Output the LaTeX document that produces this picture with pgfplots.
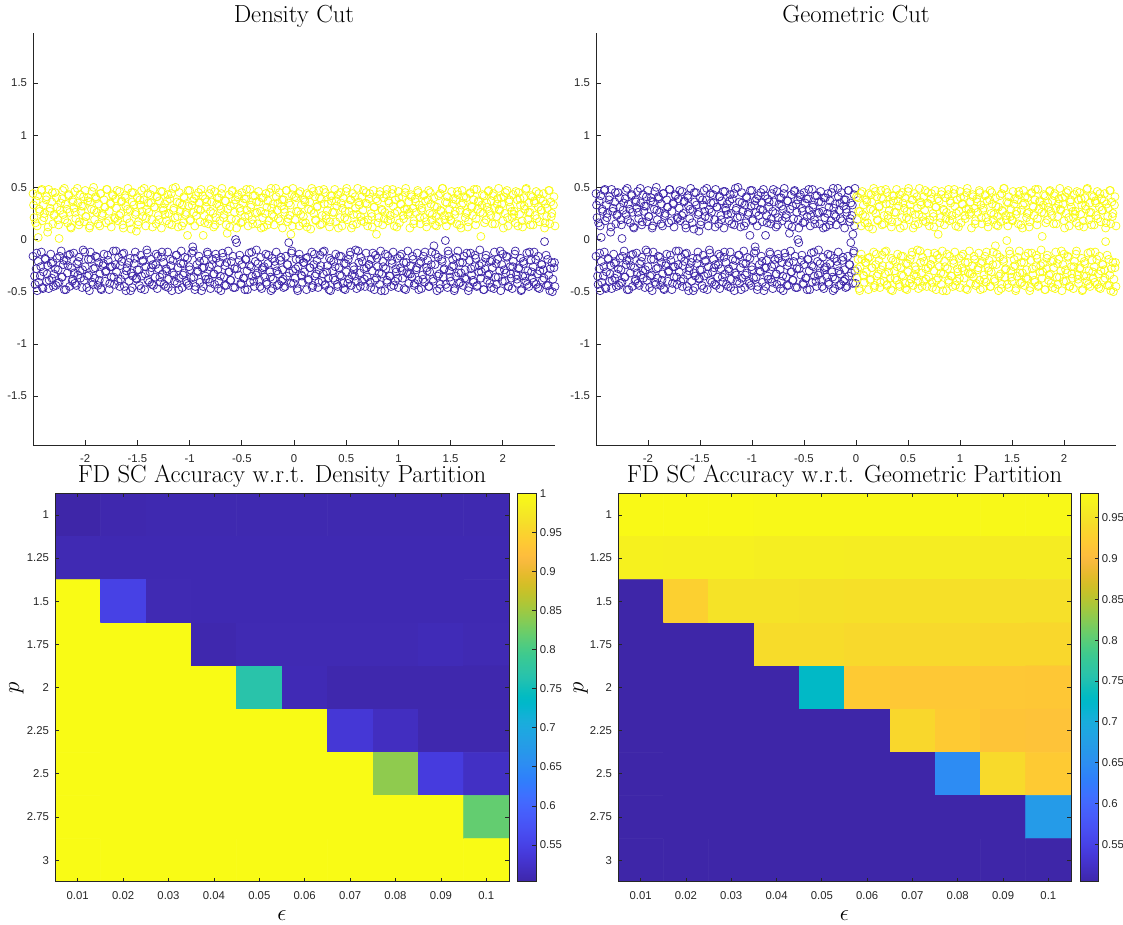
\documentclass[border=0pt]{standalone}
\usepackage{pgfplots}
\usepackage{pgfplotstable}
\pgfplotsset{compat=1.18}
\usepackage{fontspec}
\newfontfamily\arial{Liberation Sans}
\definecolor{pPurple}{rgb}{0.2422,0.1504,0.6603}
\definecolor{pYellow}{rgb}{0.9769,0.9839,0.0805}
\definecolor{axgray}{rgb}{0.15,0.15,0.15}
\pgfplotsset{colormap={parula}{
rgb=(0.2422,0.1504,0.6603) rgb=(0.2504,0.1650,0.7076) rgb=(0.2578,0.1818,0.7511) rgb=(0.2647,0.1978,0.7952)
rgb=(0.2706,0.2147,0.8364) rgb=(0.2751,0.2342,0.8710) rgb=(0.2783,0.2559,0.8991) rgb=(0.2803,0.2782,0.9221)
rgb=(0.2813,0.3006,0.9414) rgb=(0.2810,0.3228,0.9579) rgb=(0.2795,0.3447,0.9717) rgb=(0.2760,0.3667,0.9829)
rgb=(0.2699,0.3892,0.9906) rgb=(0.2602,0.4123,0.9952) rgb=(0.2440,0.4358,0.9988) rgb=(0.2206,0.4603,0.9973)
rgb=(0.1963,0.4847,0.9892) rgb=(0.1834,0.5074,0.9798) rgb=(0.1786,0.5289,0.9682) rgb=(0.1764,0.5499,0.9520)
rgb=(0.1687,0.5703,0.9359) rgb=(0.1540,0.5902,0.9218) rgb=(0.1460,0.6091,0.9079) rgb=(0.1380,0.6276,0.8973)
rgb=(0.1248,0.6459,0.8883) rgb=(0.1113,0.6635,0.8763) rgb=(0.0952,0.6798,0.8598) rgb=(0.0689,0.6948,0.8394)
rgb=(0.0297,0.7082,0.8163) rgb=(0.0036,0.7203,0.7917) rgb=(0.0067,0.7312,0.7660) rgb=(0.0433,0.7411,0.7394)
rgb=(0.0964,0.7500,0.7120) rgb=(0.1408,0.7584,0.6842) rgb=(0.1717,0.7670,0.6554) rgb=(0.1938,0.7758,0.6251)
rgb=(0.2161,0.7843,0.5923) rgb=(0.2470,0.7918,0.5567) rgb=(0.2906,0.7973,0.5188) rgb=(0.3406,0.8008,0.4789)
rgb=(0.3909,0.8029,0.4354) rgb=(0.4456,0.8024,0.3909) rgb=(0.5044,0.7993,0.3480) rgb=(0.5616,0.7942,0.3045)
rgb=(0.6174,0.7876,0.2612) rgb=(0.6720,0.7793,0.2227) rgb=(0.7242,0.7698,0.1910) rgb=(0.7738,0.7598,0.1646)
rgb=(0.8203,0.7498,0.1535) rgb=(0.8634,0.7406,0.1596) rgb=(0.9035,0.7330,0.1774) rgb=(0.9393,0.7288,0.2100)
rgb=(0.9728,0.7298,0.2394) rgb=(0.9956,0.7434,0.2371) rgb=(0.9970,0.7659,0.2199) rgb=(0.9952,0.7893,0.2028)
rgb=(0.9892,0.8136,0.1885) rgb=(0.9786,0.8386,0.1766) rgb=(0.9676,0.8639,0.1643) rgb=(0.9610,0.8890,0.1537)
rgb=(0.9597,0.9135,0.1423) rgb=(0.9628,0.9373,0.1265) rgb=(0.9691,0.9606,0.1064) rgb=(0.9769,0.9839,0.0805)}}

\pgfplotstableread[row sep=\\]{x y\\
-2.50 0.44\\ -2.49 0.21\\ -2.47 0.37\\ -2.46 0.13\\ -2.45 0.02\\ -2.44 0.29\\ -2.42 0.47\\ -2.41 0.18\\ -2.40 0.33\\ -2.39 0.25\\
-2.37 0.41\\ -2.36 0.07\\ -2.35 0.48\\ -2.34 0.27\\ -2.32 0.36\\ -2.31 0.15\\ -2.30 0.23\\ -2.29 0.45\\ -2.27 0.31\\ -2.26 0.19\\
-2.25 0.01\\ -2.24 0.28\\ -2.22 0.39\\ -2.21 0.24\\ -2.20 0.49\\ -2.19 0.34\\ -2.17 0.16\\ -2.16 0.42\\ -2.15 0.26\\ -2.14 0.12\\
-2.12 0.38\\ -2.11 0.30\\ -2.10 0.46\\ -2.09 0.20\\ -2.07 0.35\\ -2.06 0.14\\ -2.05 0.43\\ -2.04 0.27\\ -2.02 0.32\\ -2.01 0.17\\
-2.00 0.47\\ -1.99 0.22\\ -1.97 0.40\\ -1.96 0.11\\ -1.95 0.36\\ -1.94 0.29\\ -1.92 0.50\\ -1.91 0.19\\ -1.90 0.41\\ -1.89 0.26\\
-1.87 0.34\\ -1.86 0.13\\ -1.85 0.44\\ -1.84 0.23\\ -1.82 0.38\\ -1.81 0.31\\ -1.80 0.16\\ -1.79 0.48\\ -1.77 0.27\\ -1.76 0.35\\
-1.75 0.12\\ -1.74 0.43\\ -1.72 0.21\\ -1.71 0.39\\ -1.70 0.30\\ -1.69 0.18\\ -1.67 0.46\\ -1.66 0.25\\ -1.65 0.37\\ -1.64 0.14\\
-1.62 0.42\\ -1.61 0.32\\ -1.60 0.20\\ -1.59 0.49\\ -1.57 0.28\\ -1.56 0.10\\ -1.55 0.36\\ -1.54 0.45\\ -1.52 0.24\\ -1.51 0.08\\
-1.50 0.40\\ -1.49 0.17\\ -1.47 0.33\\ -1.46 0.47\\ -1.45 0.22\\ -1.44 0.38\\ -1.42 0.13\\ -1.41 0.29\\ -1.40 0.44\\ -1.39 0.26\\
-1.37 0.35\\ -1.36 0.19\\ -1.35 0.48\\ -1.34 0.31\\ -1.32 0.15\\ -1.31 0.41\\ -1.30 0.23\\ -1.29 0.37\\ -1.27 0.11\\ -1.26 0.46\\
-1.25 0.28\\ -1.24 0.34\\ -1.22 0.18\\ -1.21 0.43\\ -1.20 0.25\\ -1.19 0.39\\ -1.17 0.14\\ -1.16 0.49\\ -1.15 0.30\\ -1.14 0.21\\
-1.12 0.36\\ -1.11 0.12\\ -1.10 0.45\\ -1.09 0.27\\ -1.07 0.33\\ -1.06 0.16\\ -1.05 0.40\\ -1.04 0.24\\ -1.02 0.04\\ -1.01 0.32\\
-1.00 0.47\\ -0.99 0.19\\ -0.97 0.37\\ -0.96 0.26\\ -0.95 0.13\\ -0.94 0.42\\ -0.92 0.29\\ -0.91 0.35\\ -0.90 0.17\\ -0.89 0.48\\
-0.87 0.04\\ -0.86 0.23\\ -0.85 0.39\\ -0.84 0.31\\ -0.82 0.15\\ -0.81 0.44\\ -0.80 0.27\\ -0.79 0.36\\ -0.77 0.12\\ -0.76 0.46\\
-0.75 0.21\\ -0.74 0.34\\ -0.72 0.40\\ -0.71 0.18\\ -0.70 0.29\\ -0.69 0.49\\ -0.67 0.24\\ -0.66 0.37\\ -0.65 0.14\\ -0.64 0.06\\
-0.62 0.43\\ -0.61 0.32\\ -0.60 0.20\\ -0.59 0.47\\ -0.57 0.26\\ -0.56 0.38\\ -0.55 0.11\\ -0.54 0.41\\ -0.52 0.30\\ -0.51 0.16\\
-0.50 0.45\\ -0.49 0.35\\ -0.47 0.22\\ -0.46 0.39\\ -0.45 0.28\\ -0.44 0.13\\ -0.42 0.48\\ -0.41 0.33\\ -0.40 0.19\\ -0.39 0.42\\
-0.37 0.25\\ -0.36 0.36\\ -0.35 0.15\\ -0.34 0.46\\ -0.32 0.27\\ -0.31 0.40\\ -0.30 0.21\\ -0.29 0.12\\ -0.27 0.44\\ -0.26 0.31\\
-0.25 0.37\\ -0.24 0.18\\ -0.22 0.49\\ -0.21 0.24\\ -0.20 0.34\\ -0.19 0.14\\ -0.17 0.41\\ -0.16 0.28\\ -0.15 0.20\\ -0.14 0.45\\
-0.12 0.32\\ -0.11 0.11\\ -0.10 0.38\\ -0.09 0.26\\ -0.07 0.47\\ -0.06 0.17\\ -0.05 0.35\\ -0.04 0.23\\ -0.03 0.05\\ -0.02 0.43\\
-0.01 0.49\\ 0.01 0.19\\ 0.02 0.40\\ 0.04 0.27\\ 0.05 0.13\\ 0.06 0.46\\ 0.07 0.33\\ 0.09 0.22\\ 0.10 0.38\\ 0.11 0.16\\
0.12 0.44\\ 0.14 0.29\\ 0.15 0.36\\ 0.16 0.10\\ 0.17 0.49\\ 0.19 0.25\\ 0.20 0.41\\ 0.21 0.18\\ 0.22 0.31\\ 0.24 0.47\\
0.25 0.14\\ 0.26 0.39\\ 0.27 0.23\\ 0.29 0.34\\ 0.30 0.45\\ 0.31 0.20\\ 0.32 0.28\\ 0.34 0.12\\ 0.35 0.42\\ 0.36 0.37\\
0.37 0.26\\ 0.39 0.48\\ 0.40 0.17\\ 0.41 0.32\\ 0.42 0.43\\ 0.44 0.21\\ 0.45 0.35\\ 0.46 0.13\\ 0.47 0.40\\ 0.49 0.27\\
0.50 0.46\\ 0.51 0.19\\ 0.52 0.33\\ 0.54 0.38\\ 0.55 0.11\\ 0.56 0.44\\ 0.57 0.24\\ 0.59 0.30\\ 0.60 0.15\\ 0.61 0.49\\
0.62 0.36\\ 0.64 0.22\\ 0.65 0.41\\ 0.66 0.28\\ 0.67 0.17\\ 0.69 0.45\\ 0.70 0.34\\ 0.71 0.19\\ 0.72 0.39\\ 0.74 0.25\\
0.75 0.12\\ 0.76 0.47\\ 0.77 0.31\\ 0.79 0.05\\ 0.80 0.37\\ 0.81 0.21\\ 0.82 0.43\\ 0.84 0.29\\ 0.85 0.14\\ 0.86 0.40\\
0.87 0.26\\ 0.89 0.48\\ 0.90 0.18\\ 0.91 0.35\\ 0.92 0.23\\ 0.94 0.44\\ 0.95 0.32\\ 0.96 0.13\\ 0.97 0.38\\ 0.99 0.27\\
1.00 0.46\\ 1.01 0.16\\ 1.02 0.34\\ 1.04 0.41\\ 1.05 0.20\\ 1.06 0.29\\ 1.07 0.49\\ 1.09 0.24\\ 1.10 0.36\\ 1.11 0.11\\
1.12 0.43\\ 1.14 0.30\\ 1.15 0.18\\ 1.16 0.39\\ 1.17 0.26\\ 1.19 0.45\\ 1.20 0.33\\ 1.21 0.15\\ 1.22 0.28\\ 1.24 0.42\\
1.25 0.21\\ 1.26 0.37\\ 1.27 0.12\\ 1.29 0.47\\ 1.30 0.25\\ 1.31 0.34\\ 1.32 0.19\\ 1.34 0.40\\ 1.35 0.14\\ 1.36 0.22\\
1.37 0.31\\ 1.39 0.17\\ 1.40 0.44\\ 1.41 0.27\\ 1.42 0.49\\ 1.44 0.23\\ 1.45 0.36\\ 1.46 0.13\\ 1.47 0.41\\ 1.49 0.29\\
1.50 0.19\\ 1.51 0.46\\ 1.52 0.34\\ 1.54 0.24\\ 1.55 0.38\\ 1.56 0.15\\ 1.57 0.43\\ 1.59 0.28\\ 1.60 0.11\\ 1.61 0.47\\
1.62 0.35\\ 1.64 0.21\\ 1.65 0.40\\ 1.66 0.26\\ 1.67 0.17\\ 1.69 0.45\\ 1.70 0.32\\ 1.71 0.23\\ 1.72 0.38\\ 1.74 0.14\\
1.75 0.48\\ 1.76 0.29\\ 1.77 0.36\\ 1.79 0.03\\ 1.80 0.33\\ 1.81 0.25\\ 1.82 0.42\\ 1.84 0.19\\ 1.85 0.31\\ 1.86 0.46\\
1.87 0.27\\ 1.89 0.37\\ 1.90 0.15\\ 1.91 0.44\\ 1.92 0.30\\ 1.94 0.22\\ 1.95 0.39\\ 1.96 0.49\\ 1.97 0.28\\ 1.99 0.34\\
2.00 0.18\\ 2.01 0.41\\ 2.02 0.25\\ 2.04 0.47\\ 2.05 0.13\\ 2.06 0.36\\ 2.07 0.31\\ 2.09 0.21\\ 2.10 0.43\\ 2.11 0.27\\
2.12 0.16\\ 2.14 0.38\\ 2.15 0.45\\ 2.16 0.24\\ 2.17 0.33\\ 2.19 0.12\\ 2.20 0.40\\ 2.21 0.29\\ 2.22 0.48\\ 2.24 0.19\\
2.25 0.35\\ 2.26 0.26\\ 2.27 0.42\\ 2.29 0.14\\ 2.30 0.37\\ 2.31 0.23\\ 2.32 0.46\\ 2.34 0.31\\ 2.35 0.17\\ 2.36 0.39\\
2.37 0.28\\ 2.39 0.44\\ 2.40 0.11\\ 2.41 0.34\\ 2.42 0.22\\ 2.44 0.47\\ 2.45 0.15\\ 2.46 0.36\\ 2.47 0.25\\ 2.49 0.41\\
2.50 0.13\\
-2.495 0.33\\ -2.475 0.16\\ -2.455 0.42\\ -2.435 0.27\\ -2.415 0.48\\ -2.395 0.21\\ -2.375 0.38\\ -2.355 0.12\\ -2.335 0.30\\ -2.315 0.45\\
-2.295 0.24\\ -2.275 0.40\\ -2.255 0.14\\ -2.235 0.35\\ -2.215 0.47\\ -2.195 0.19\\ -2.175 0.29\\ -2.155 0.43\\ -2.135 0.11\\ -2.115 0.36\\
-2.095 0.26\\ -2.075 0.49\\ -2.055 0.17\\ -2.035 0.32\\ -2.015 0.41\\ -1.995 0.22\\ -1.975 0.37\\ -1.955 0.13\\ -1.935 0.46\\ -1.915 0.28\\
-1.895 0.39\\ -1.875 0.15\\ -1.855 0.44\\ -1.835 0.25\\ -1.815 0.31\\ -1.795 0.48\\ -1.775 0.18\\ -1.755 0.34\\ -1.735 0.42\\ -1.715 0.20\\
-1.695 0.47\\ -1.675 0.23\\ -1.655 0.36\\ -1.635 0.11\\ -1.615 0.40\\ -1.595 0.29\\ -1.575 0.16\\ -1.555 0.45\\ -1.535 0.33\\ -1.515 0.26\\
-1.495 0.14\\ -1.475 0.38\\ -1.455 0.27\\ -1.435 0.49\\ -1.415 0.21\\ -1.395 0.35\\ -1.375 0.43\\ -1.355 0.12\\ -1.335 0.31\\ -1.315 0.41\\
-1.295 0.19\\ -1.275 0.46\\ -1.255 0.30\\ -1.235 0.24\\ -1.215 0.37\\ -1.195 0.15\\ -1.175 0.44\\ -1.155 0.28\\ -1.135 0.50\\ -1.115 0.22\\
-1.095 0.35\\ -1.075 0.13\\ -1.055 0.41\\ -1.035 0.26\\ -1.015 0.47\\ -0.995 0.18\\ -0.975 0.33\\ -0.955 0.39\\ -0.935 0.23\\ -0.915 0.45\\
-0.895 0.28\\ -0.875 0.42\\ -0.855 0.16\\ -0.835 0.36\\ -0.815 0.20\\ -0.795 0.48\\ -0.775 0.25\\ -0.755 0.14\\ -0.735 0.40\\ -0.715 0.32\\
-0.695 0.44\\ -0.675 0.21\\ -0.655 0.37\\ -0.635 0.29\\ -0.615 0.12\\ -0.595 0.46\\ -0.575 0.34\\ -0.555 0.19\\ -0.535 0.43\\ -0.515 0.27\\
-0.495 0.17\\ -0.475 0.39\\ -0.455 0.48\\ -0.435 0.23\\ -0.415 0.31\\ -0.395 0.15\\ -0.375 0.42\\ -0.355 0.26\\ -0.335 0.36\\ -0.315 0.11\\
-0.295 0.40\\ -0.275 0.25\\ -0.255 0.14\\ -0.235 0.45\\ -0.215 0.30\\ -0.195 0.22\\ -0.175 0.49\\ -0.155 0.35\\ -0.135 0.18\\ -0.115 0.38\\
-0.095 0.29\\ -0.075 0.47\\ -0.055 0.20\\ -0.035 0.33\\ -0.015 0.13\\ 0.005 0.41\\ 0.025 0.27\\ 0.045 0.44\\ 0.065 0.24\\ 0.085 0.16\\
0.105 0.36\\ 0.125 0.12\\ 0.145 0.43\\ 0.165 0.28\\ 0.185 0.46\\ 0.205 0.19\\ 0.225 0.32\\ 0.245 0.40\\ 0.265 0.15\\ 0.285 0.48\\
0.305 0.23\\ 0.325 0.34\\ 0.345 0.17\\ 0.365 0.42\\ 0.385 0.26\\ 0.405 0.37\\ 0.425 0.11\\ 0.445 0.45\\ 0.465 0.30\\ 0.485 0.21\\
0.505 0.49\\ 0.525 0.27\\ 0.545 0.38\\ 0.565 0.14\\ 0.585 0.41\\ 0.605 0.24\\ 0.625 0.33\\ 0.645 0.18\\ 0.665 0.47\\ 0.685 0.35\\
0.705 0.13\\ 0.725 0.44\\ 0.745 0.22\\ 0.765 0.31\\ 0.785 0.39\\ 0.805 0.16\\ 0.825 0.46\\ 0.845 0.28\\ 0.865 0.20\\ 0.885 0.43\\
0.905 0.37\\ 0.925 0.19\\ 0.945 0.48\\ 0.965 0.25\\ 0.985 0.12\\ 1.005 0.40\\ 1.025 0.34\\ 1.045 0.23\\ 1.065 0.45\\ 1.085 0.29\\
1.105 0.26\\ 1.125 0.41\\ 1.145 0.15\\ 1.165 0.36\\ 1.185 0.47\\ 1.205 0.21\\ 1.225 0.30\\ 1.245 0.43\\ 1.265 0.17\\ 1.285 0.38\\
1.305 0.45\\ 1.325 0.24\\ 1.345 0.32\\ 1.365 0.13\\ 1.385 0.42\\ 1.405 0.28\\ 1.425 0.49\\ 1.445 0.19\\ 1.465 0.35\\ 1.485 0.22\\
1.505 0.18\\ 1.525 0.39\\ 1.545 0.27\\ 1.565 0.46\\ 1.585 0.14\\ 1.605 0.33\\ 1.625 0.41\\ 1.645 0.25\\ 1.665 0.12\\ 1.685 0.44\\
1.705 0.31\\ 1.725 0.48\\ 1.745 0.20\\ 1.765 0.37\\ 1.785 0.26\\ 1.805 0.43\\ 1.825 0.16\\ 1.845 0.35\\ 1.865 0.47\\ 1.885 0.23\\
1.905 0.42\\ 1.925 0.15\\ 1.945 0.34\\ 1.965 0.29\\ 1.985 0.40\\ 2.005 0.11\\ 2.025 0.45\\ 2.045 0.21\\ 2.065 0.38\\ 2.085 0.27\\
2.105 0.24\\ 2.125 0.46\\ 2.145 0.13\\ 2.165 0.39\\ 2.185 0.18\\ 2.205 0.32\\ 2.225 0.49\\ 2.245 0.26\\ 2.265 0.14\\ 2.285 0.41\\
2.305 0.35\\ 2.325 0.20\\ 2.345 0.44\\ 2.365 0.28\\ 2.385 0.37\\ 2.405 0.16\\ 2.425 0.30\\ 2.445 0.47\\ 2.465 0.22\\ 2.485 0.33\\
}\upperband

\pgfplotstableread[row sep=\\]{x y\\
-2.50 -0.16\\ -2.48 -0.43\\ -2.47 -0.28\\ -2.46 -0.49\\ -2.45 -0.21\\ -2.43 -0.35\\ -2.42 -0.12\\ -2.41 -0.46\\ -2.40 -0.31\\ -2.38 -0.19\\
-2.37 -0.40\\ -2.36 -0.25\\ -2.35 -0.47\\ -2.33 -0.14\\ -2.32 -0.37\\ -2.31 -0.22\\ -2.30 -0.33\\ -2.28 -0.44\\ -2.27 -0.18\\ -2.26 -0.29\\
-2.25 -0.41\\ -2.23 -0.11\\ -2.22 -0.36\\ -2.21 -0.24\\ -2.20 -0.48\\ -2.18 -0.20\\ -2.17 -0.32\\ -2.16 -0.15\\ -2.15 -0.45\\ -2.13 -0.27\\
-2.12 -0.38\\ -2.11 -0.13\\ -2.10 -0.42\\ -2.08 -0.23\\ -2.07 -0.34\\ -2.06 -0.17\\ -2.05 -0.30\\ -2.03 -0.46\\ -2.02 -0.10\\ -2.01 -0.39\\
-2.00 -0.26\\ -1.98 -0.35\\ -1.97 -0.19\\ -1.96 -0.49\\ -1.95 -0.12\\ -1.93 -0.41\\ -1.92 -0.28\\ -1.91 -0.37\\ -1.90 -0.16\\ -1.88 -0.44\\
-1.87 -0.22\\ -1.86 -0.33\\ -1.85 -0.47\\ -1.83 -0.25\\ -1.82 -0.14\\ -1.81 -0.40\\ -1.80 -0.30\\ -1.78 -0.20\\ -1.77 -0.48\\ -1.76 -0.26\\
-1.75 -0.36\\ -1.73 -0.11\\ -1.72 -0.43\\ -1.71 -0.24\\ -1.70 -0.31\\ -1.68 -0.17\\ -1.67 -0.45\\ -1.66 -0.38\\ -1.65 -0.21\\ -1.63 -0.13\\
-1.62 -0.34\\ -1.61 -0.49\\ -1.60 -0.27\\ -1.58 -0.40\\ -1.57 -0.18\\ -1.56 -0.32\\ -1.55 -0.46\\ -1.53 -0.23\\ -1.52 -0.12\\ -1.51 -0.37\\
-1.50 -0.29\\ -1.48 -0.44\\ -1.47 -0.15\\ -1.46 -0.35\\ -1.45 -0.21\\ -1.43 -0.48\\ -1.42 -0.26\\ -1.41 -0.10\\ -1.40 -0.39\\ -1.38 -0.31\\
-1.37 -0.19\\ -1.36 -0.43\\ -1.35 -0.24\\ -1.33 -0.36\\ -1.32 -0.14\\ -1.31 -0.47\\ -1.30 -0.28\\ -1.28 -0.41\\ -1.27 -0.17\\ -1.26 -0.33\\
-1.25 -0.22\\ -1.23 -0.45\\ -1.22 -0.30\\ -1.21 -0.12\\ -1.20 -0.38\\ -1.18 -0.25\\ -1.17 -0.49\\ -1.16 -0.20\\ -1.15 -0.34\\ -1.13 -0.15\\
-1.12 -0.42\\ -1.11 -0.27\\ -1.10 -0.37\\ -1.08 -0.11\\ -1.07 -0.46\\ -1.06 -0.23\\ -1.05 -0.32\\ -1.03 -0.40\\ -1.02 -0.18\\ -1.01 -0.44\\
-1.00 -0.29\\ -0.98 -0.13\\ -0.97 -0.07\\ -0.96 -0.36\\ -0.95 -0.48\\ -0.93 -0.24\\ -0.92 -0.31\\ -0.91 -0.16\\ -0.90 -0.41\\ -0.88 -0.27\\
-0.87 -0.45\\ -0.86 -0.20\\ -0.85 -0.35\\ -0.83 -0.12\\ -0.82 -0.38\\ -0.81 -0.26\\ -0.80 -0.47\\ -0.78 -0.19\\ -0.77 -0.33\\ -0.76 -0.43\\
-0.75 -0.14\\ -0.73 -0.29\\ -0.72 -0.40\\ -0.71 -0.22\\ -0.70 -0.49\\ -0.68 -0.17\\ -0.67 -0.36\\ -0.66 -0.25\\ -0.65 -0.44\\ -0.63 -0.11\\
-0.62 -0.31\\ -0.61 -0.39\\ -0.60 -0.21\\ -0.58 -0.46\\ -0.57 -0.28\\ -0.56 0.00\\ -0.55 -0.03\\ -0.53 -0.34\\ -0.52 -0.15\\ -0.51 -0.42\\
-0.50 -0.24\\ -0.48 -0.37\\ -0.47 -0.48\\ -0.46 -0.19\\ -0.45 -0.30\\ -0.43 -0.13\\ -0.42 -0.41\\ -0.41 -0.26\\ -0.40 -0.35\\ -0.38 -0.45\\
-0.37 -0.21\\ -0.36 -0.10\\ -0.35 -0.32\\ -0.33 -0.39\\ -0.32 -0.17\\ -0.31 -0.47\\ -0.30 -0.27\\ -0.28 -0.36\\ -0.27 -0.14\\ -0.26 -0.43\\
-0.25 -0.23\\ -0.23 -0.31\\ -0.22 -0.49\\ -0.21 -0.18\\ -0.20 -0.38\\ -0.18 -0.25\\ -0.17 -0.12\\ -0.16 -0.44\\ -0.15 -0.33\\ -0.13 -0.20\\
-0.12 -0.40\\ -0.11 -0.29\\ -0.10 -0.46\\ -0.08 -0.16\\ -0.07 -0.35\\ -0.06 -0.24\\ -0.05 -0.03\\ -0.03 -0.42\\ -0.02 -0.11\\ -0.01 -0.30\\
0.01 -0.37\\ 0.02 -0.19\\ 0.03 -0.47\\ 0.04 -0.26\\ 0.05 -0.14\\ 0.07 -0.34\\ 0.08 -0.41\\ 0.09 -0.22\\ 0.10 -0.31\\ 0.12 -0.48\\
0.13 -0.17\\ 0.14 -0.38\\ 0.15 -0.27\\ 0.17 -0.12\\ 0.18 -0.44\\ 0.19 -0.24\\ 0.20 -0.35\\ 0.22 -0.20\\ 0.23 -0.46\\ 0.24 -0.29\\
0.25 -0.15\\ 0.27 -0.40\\ 0.28 -0.33\\ 0.29 -0.11\\ 0.30 -0.43\\ 0.32 -0.25\\ 0.33 -0.37\\ 0.34 -0.18\\ 0.35 -0.49\\ 0.37 -0.30\\
0.38 -0.21\\ 0.39 -0.39\\ 0.40 -0.14\\ 0.42 -0.45\\ 0.43 -0.27\\ 0.44 -0.34\\ 0.45 -0.16\\ 0.47 -0.42\\ 0.48 -0.23\\ 0.49 -0.48\\
0.50 -0.31\\ 0.52 -0.19\\ 0.53 -0.38\\ 0.54 -0.12\\ 0.55 -0.44\\ 0.57 -0.26\\ 0.58 -0.35\\ 0.59 -0.10\\ 0.60 -0.47\\ 0.62 -0.22\\
0.63 -0.32\\ 0.64 -0.17\\ 0.65 -0.40\\ 0.67 -0.28\\ 0.68 -0.45\\ 0.69 -0.13\\ 0.70 -0.36\\ 0.72 -0.24\\ 0.73 -0.41\\ 0.74 -0.19\\
0.75 -0.30\\ 0.77 -0.48\\ 0.78 -0.15\\ 0.79 -0.37\\ 0.80 -0.26\\ 0.82 -0.43\\ 0.83 -0.11\\ 0.84 -0.33\\ 0.85 -0.21\\ 0.87 -0.49\\
0.88 -0.28\\ 0.89 -0.39\\ 0.90 -0.16\\ 0.92 -0.35\\ 0.93 -0.45\\ 0.94 -0.23\\ 0.95 -0.12\\ 0.97 -0.40\\ 0.98 -0.31\\ 0.99 -0.18\\
1.00 -0.46\\ 1.02 -0.27\\ 1.03 -0.14\\ 1.04 -0.37\\ 1.05 -0.22\\ 1.07 -0.48\\ 1.08 -0.32\\ 1.09 -0.11\\ 1.10 -0.42\\ 1.12 -0.25\\
1.13 -0.36\\ 1.14 -0.19\\ 1.15 -0.44\\ 1.17 -0.29\\ 1.18 -0.13\\ 1.19 -0.39\\ 1.20 -0.23\\ 1.22 -0.47\\ 1.23 -0.34\\ 1.24 -0.16\\
1.25 -0.41\\ 1.27 -0.27\\ 1.28 -0.20\\ 1.29 -0.45\\ 1.30 -0.31\\ 1.32 -0.12\\ 1.33 -0.38\\ 1.34 -0.06\\ 1.35 -0.24\\ 1.37 -0.49\\
1.38 -0.17\\ 1.39 -0.33\\ 1.40 -0.43\\ 1.42 -0.21\\ 1.43 -0.36\\ 1.44 -0.28\\ 1.45 -0.01\\ 1.47 -0.46\\ 1.48 -0.14\\ 1.49 -0.30\\
1.50 -0.40\\ 1.52 -0.19\\ 1.53 -0.25\\ 1.54 -0.47\\ 1.55 -0.35\\ 1.57 -0.11\\ 1.58 -0.42\\ 1.59 -0.22\\ 1.60 -0.32\\ 1.62 -0.44\\
1.63 -0.16\\ 1.64 -0.29\\ 1.65 -0.38\\ 1.67 -0.49\\ 1.68 -0.20\\ 1.69 -0.13\\ 1.70 -0.34\\ 1.72 -0.41\\ 1.73 -0.26\\ 1.74 -0.18\\
1.75 -0.45\\ 1.77 -0.31\\ 1.78 -0.10\\ 1.79 -0.37\\ 1.80 -0.23\\ 1.82 -0.48\\ 1.83 -0.28\\ 1.84 -0.15\\ 1.85 -0.39\\ 1.87 -0.33\\
1.88 -0.21\\ 1.89 -0.46\\ 1.90 -0.27\\ 1.92 -0.12\\ 1.93 -0.36\\ 1.94 -0.43\\ 1.95 -0.19\\ 1.97 -0.30\\ 1.98 -0.49\\ 1.99 -0.24\\
2.00 -0.14\\ 2.02 -0.40\\ 2.03 -0.32\\ 2.04 -0.17\\ 2.05 -0.45\\ 2.07 -0.26\\ 2.08 -0.37\\ 2.09 -0.47\\ 2.10 -0.21\\ 2.12 -0.11\\
2.13 -0.34\\ 2.14 -0.42\\ 2.15 -0.28\\ 2.17 -0.18\\ 2.18 -0.48\\ 2.19 -0.35\\ 2.20 -0.23\\ 2.22 -0.40\\ 2.23 -0.13\\ 2.24 -0.30\\
2.25 -0.45\\ 2.27 -0.20\\ 2.28 -0.37\\ 2.29 -0.26\\ 2.30 -0.12\\ 2.32 -0.43\\ 2.33 -0.33\\ 2.34 -0.16\\ 2.35 -0.47\\ 2.37 -0.24\\
2.38 -0.39\\ 2.39 -0.29\\ 2.40 -0.02\\ 2.42 -0.44\\ 2.43 -0.19\\ 2.44 -0.34\\ 2.45 -0.49\\ 2.47 -0.22\\ 2.48 -0.38\\ 2.49 -0.27\\
2.50 -0.45\\
-2.485 -0.35\\ -2.465 -0.13\\ -2.445 -0.41\\ -2.425 -0.26\\ -2.405 -0.47\\ -2.385 -0.18\\ -2.365 -0.33\\ -2.345 -0.39\\ -2.325 -0.23\\ -2.305 -0.45\\
-2.285 -0.28\\ -2.265 -0.42\\ -2.245 -0.16\\ -2.225 -0.36\\ -2.205 -0.20\\ -2.185 -0.48\\ -2.165 -0.25\\ -2.145 -0.14\\ -2.125 -0.40\\ -2.105 -0.32\\
-2.085 -0.44\\ -2.065 -0.21\\ -2.045 -0.37\\ -2.025 -0.29\\ -2.005 -0.12\\ -1.985 -0.46\\ -1.965 -0.34\\ -1.945 -0.19\\ -1.925 -0.43\\ -1.905 -0.27\\
-1.885 -0.17\\ -1.865 -0.39\\ -1.845 -0.48\\ -1.825 -0.23\\ -1.805 -0.31\\ -1.785 -0.15\\ -1.765 -0.42\\ -1.745 -0.26\\ -1.725 -0.36\\ -1.705 -0.11\\
-1.685 -0.40\\ -1.665 -0.25\\ -1.645 -0.14\\ -1.625 -0.45\\ -1.605 -0.30\\ -1.585 -0.22\\ -1.565 -0.49\\ -1.545 -0.35\\ -1.525 -0.18\\ -1.505 -0.38\\
-1.485 -0.29\\ -1.465 -0.47\\ -1.445 -0.20\\ -1.425 -0.33\\ -1.405 -0.13\\ -1.385 -0.41\\ -1.365 -0.27\\ -1.345 -0.44\\ -1.325 -0.24\\ -1.305 -0.16\\
-1.285 -0.36\\ -1.265 -0.12\\ -1.245 -0.43\\ -1.225 -0.28\\ -1.205 -0.46\\ -1.185 -0.19\\ -1.165 -0.32\\ -1.145 -0.40\\ -1.125 -0.15\\ -1.105 -0.48\\
-1.085 -0.23\\ -1.065 -0.34\\ -1.045 -0.17\\ -1.025 -0.42\\ -1.005 -0.26\\ -0.985 -0.37\\ -0.965 -0.11\\ -0.945 -0.45\\ -0.925 -0.30\\ -0.905 -0.21\\
-0.885 -0.49\\ -0.865 -0.27\\ -0.845 -0.38\\ -0.825 -0.14\\ -0.805 -0.41\\ -0.785 -0.24\\ -0.765 -0.33\\ -0.745 -0.18\\ -0.725 -0.47\\ -0.705 -0.35\\
-0.685 -0.13\\ -0.665 -0.44\\ -0.645 -0.22\\ -0.625 -0.31\\ -0.605 -0.39\\ -0.585 -0.16\\ -0.565 -0.46\\ -0.545 -0.28\\ -0.525 -0.20\\ -0.505 -0.43\\
-0.485 -0.37\\ -0.465 -0.19\\ -0.445 -0.48\\ -0.425 -0.25\\ -0.405 -0.12\\ -0.385 -0.40\\ -0.365 -0.34\\ -0.345 -0.23\\ -0.325 -0.45\\ -0.305 -0.29\\
-0.285 -0.26\\ -0.265 -0.41\\ -0.245 -0.15\\ -0.225 -0.36\\ -0.205 -0.47\\ -0.185 -0.21\\ -0.165 -0.30\\ -0.145 -0.43\\ -0.125 -0.17\\ -0.105 -0.38\\
-0.085 -0.45\\ -0.065 -0.24\\ -0.045 -0.32\\ -0.025 -0.13\\ -0.005 -0.42\\ 0.015 -0.28\\ 0.035 -0.49\\ 0.055 -0.19\\ 0.075 -0.35\\ 0.095 -0.22\\
0.115 -0.18\\ 0.135 -0.39\\ 0.155 -0.27\\ 0.175 -0.46\\ 0.195 -0.14\\ 0.215 -0.33\\ 0.235 -0.41\\ 0.255 -0.25\\ 0.275 -0.12\\ 0.295 -0.44\\
0.315 -0.31\\ 0.335 -0.48\\ 0.355 -0.20\\ 0.375 -0.37\\ 0.395 -0.26\\ 0.415 -0.43\\ 0.435 -0.16\\ 0.455 -0.35\\ 0.475 -0.47\\ 0.495 -0.23\\
0.515 -0.42\\ 0.535 -0.15\\ 0.555 -0.34\\ 0.575 -0.29\\ 0.595 -0.40\\ 0.615 -0.11\\ 0.635 -0.45\\ 0.655 -0.21\\ 0.675 -0.38\\ 0.695 -0.27\\
0.715 -0.24\\ 0.735 -0.46\\ 0.755 -0.13\\ 0.775 -0.39\\ 0.795 -0.18\\ 0.815 -0.32\\ 0.835 -0.49\\ 0.855 -0.26\\ 0.875 -0.14\\ 0.895 -0.41\\
0.915 -0.35\\ 0.935 -0.20\\ 0.955 -0.44\\ 0.975 -0.28\\ 0.995 -0.37\\ 1.015 -0.16\\ 1.035 -0.30\\ 1.055 -0.47\\ 1.075 -0.22\\ 1.095 -0.33\\
1.115 -0.33\\ 1.135 -0.16\\ 1.155 -0.42\\ 1.175 -0.27\\ 1.195 -0.48\\ 1.215 -0.21\\ 1.235 -0.38\\ 1.255 -0.12\\ 1.275 -0.30\\ 1.295 -0.45\\
1.315 -0.24\\ 1.335 -0.40\\ 1.355 -0.14\\ 1.375 -0.35\\ 1.395 -0.47\\ 1.415 -0.19\\ 1.435 -0.29\\ 1.455 -0.43\\ 1.475 -0.11\\ 1.495 -0.36\\
1.515 -0.26\\ 1.535 -0.49\\ 1.555 -0.17\\ 1.575 -0.32\\ 1.595 -0.41\\ 1.615 -0.22\\ 1.635 -0.37\\ 1.655 -0.13\\ 1.675 -0.46\\ 1.695 -0.28\\
1.715 -0.39\\ 1.735 -0.15\\ 1.755 -0.44\\ 1.775 -0.25\\ 1.795 -0.31\\ 1.815 -0.48\\ 1.835 -0.18\\ 1.855 -0.34\\ 1.875 -0.42\\ 1.895 -0.20\\
1.915 -0.47\\ 1.935 -0.23\\ 1.955 -0.36\\ 1.975 -0.11\\ 1.995 -0.40\\ 2.015 -0.29\\ 2.035 -0.16\\ 2.055 -0.45\\ 2.075 -0.33\\ 2.095 -0.26\\
2.115 -0.14\\ 2.135 -0.38\\ 2.155 -0.27\\ 2.175 -0.49\\ 2.195 -0.21\\ 2.215 -0.35\\ 2.235 -0.43\\ 2.255 -0.12\\ 2.275 -0.31\\ 2.295 -0.41\\
2.315 -0.19\\ 2.335 -0.46\\ 2.355 -0.30\\ 2.375 -0.24\\ 2.395 -0.37\\ 2.415 -0.15\\ 2.435 -0.44\\ 2.455 -0.28\\ 2.475 -0.50\\ 2.495 -0.22\\
}\lowerband

% accuracy w.r.t. density partition (rows p, columns epsilon)
\pgfplotstableread[row sep=\\]{e p a\\
0.01 1 0.503\\ 0.02 1 0.507\\ 0.03 1 0.508\\ 0.04 1 0.508\\ 0.05 1 0.508\\ 0.06 1 0.508\\ 0.07 1 0.508\\ 0.08 1 0.508\\ 0.09 1 0.508\\ 0.10 1 0.508\\
0.01 1.25 0.510\\ 0.02 1.25 0.509\\ 0.03 1.25 0.509\\ 0.04 1.25 0.509\\ 0.05 1.25 0.509\\ 0.06 1.25 0.509\\ 0.07 1.25 0.509\\ 0.08 1.25 0.509\\ 0.09 1.25 0.509\\ 0.10 1.25 0.509\\
0.01 1.5 1\\ 0.02 1.5 0.550\\ 0.03 1.5 0.510\\ 0.04 1.5 0.509\\ 0.05 1.5 0.509\\ 0.06 1.5 0.509\\ 0.07 1.5 0.509\\ 0.08 1.5 0.509\\ 0.09 1.5 0.509\\ 0.10 1.5 0.509\\
0.01 1.75 1\\ 0.02 1.75 1\\ 0.03 1.75 1\\ 0.04 1.75 0.507\\ 0.05 1.75 0.510\\ 0.06 1.75 0.510\\ 0.07 1.75 0.510\\ 0.08 1.75 0.510\\ 0.09 1.75 0.513\\ 0.10 1.75 0.510\\
0.01 2 1\\ 0.02 2 1\\ 0.03 2 1\\ 0.04 2 1\\ 0.05 2 0.768\\ 0.06 2 0.511\\ 0.07 2 0.506\\ 0.08 2 0.506\\ 0.09 2 0.506\\ 0.10 2 0.506\\
0.01 2.25 1\\ 0.02 2.25 1\\ 0.03 2.25 1\\ 0.04 2.25 1\\ 0.05 2.25 1\\ 0.06 2.25 1\\ 0.07 2.25 0.535\\ 0.08 2.25 0.519\\ 0.09 2.25 0.507\\ 0.10 2.25 0.507\\
0.01 2.5 1\\ 0.02 2.5 1\\ 0.03 2.5 1\\ 0.04 2.5 1\\ 0.05 2.5 1\\ 0.06 2.5 1\\ 0.07 2.5 1\\ 0.08 2.5 0.842\\ 0.09 2.5 0.542\\ 0.10 2.5 0.522\\
0.01 2.75 1\\ 0.02 2.75 1\\ 0.03 2.75 1\\ 0.04 2.75 1\\ 0.05 2.75 1\\ 0.06 2.75 1\\ 0.07 2.75 1\\ 0.08 2.75 1\\ 0.09 2.75 1\\ 0.10 2.75 0.818\\
0.01 3 1\\ 0.02 3 1\\ 0.03 3 1\\ 0.04 3 1\\ 0.05 3 1\\ 0.06 3 1\\ 0.07 3 1\\ 0.08 3 1\\ 0.09 3 1\\ 0.10 3 1\\
}\heatD

% accuracy w.r.t. geometric partition
\pgfplotstableread[row sep=\\]{e p a\\
0.01 1 0.978\\ 0.02 1 0.978\\ 0.03 1 0.978\\ 0.04 1 0.976\\ 0.05 1 0.976\\ 0.06 1 0.976\\ 0.07 1 0.976\\ 0.08 1 0.976\\ 0.09 1 0.976\\ 0.10 1 0.976\\
0.01 1.25 0.968\\ 0.02 1.25 0.966\\ 0.03 1.25 0.966\\ 0.04 1.25 0.963\\ 0.05 1.25 0.963\\ 0.06 1.25 0.962\\ 0.07 1.25 0.962\\ 0.08 1.25 0.962\\ 0.09 1.25 0.961\\ 0.10 1.25 0.961\\
0.01 1.5 0.504\\ 0.02 1.5 0.928\\ 0.03 1.5 0.950\\ 0.04 1.5 0.950\\ 0.05 1.5 0.948\\ 0.06 1.5 0.947\\ 0.07 1.5 0.947\\ 0.08 1.5 0.947\\ 0.09 1.5 0.946\\ 0.10 1.5 0.946\\
0.01 1.75 0.504\\ 0.02 1.75 0.504\\ 0.03 1.75 0.504\\ 0.04 1.75 0.942\\ 0.05 1.75 0.942\\ 0.06 1.75 0.938\\ 0.07 1.75 0.938\\ 0.08 1.75 0.938\\ 0.09 1.75 0.936\\ 0.10 1.75 0.936\\
0.01 2 0.504\\ 0.02 2 0.504\\ 0.03 2 0.504\\ 0.04 2 0.504\\ 0.05 2 0.728\\ 0.06 2 0.920\\ 0.07 2 0.918\\ 0.08 2 0.918\\ 0.09 2 0.918\\ 0.10 2 0.917\\
0.01 2.25 0.504\\ 0.02 2.25 0.504\\ 0.03 2.25 0.504\\ 0.04 2.25 0.504\\ 0.05 2.25 0.504\\ 0.06 2.25 0.504\\ 0.07 2.25 0.936\\ 0.08 2.25 0.920\\ 0.09 2.25 0.913\\ 0.10 2.25 0.911\\
0.01 2.5 0.504\\ 0.02 2.5 0.504\\ 0.03 2.5 0.504\\ 0.04 2.5 0.504\\ 0.05 2.5 0.504\\ 0.06 2.5 0.504\\ 0.07 2.5 0.504\\ 0.08 2.5 0.647\\ 0.09 2.5 0.940\\ 0.10 2.5 0.920\\
0.01 2.75 0.504\\ 0.02 2.75 0.504\\ 0.03 2.75 0.504\\ 0.04 2.75 0.504\\ 0.05 2.75 0.504\\ 0.06 2.75 0.504\\ 0.07 2.75 0.504\\ 0.08 2.75 0.504\\ 0.09 2.75 0.504\\ 0.10 2.75 0.670\\
0.01 3 0.504\\ 0.02 3 0.504\\ 0.03 3 0.504\\ 0.04 3 0.504\\ 0.05 3 0.504\\ 0.06 3 0.504\\ 0.07 3 0.504\\ 0.08 3 0.504\\ 0.09 3 0.504\\ 0.10 3 0.504\\
}\heatG

\pgfplotsset{
  common/.style={
    scale only axis,
    anchor=north west,
    tick align=inside,
    axis line style={draw=axgray, line width=0.6pt},
    tick style={draw=axgray, line width=0.6pt},
    tick label style={font=\arial\fontsize{8.5}{10}\selectfont, text=axgray},
    /pgf/number format/assume math mode=true,
    xticklabel style={yshift=-3.5pt},
    yticklabel style={xshift=-1pt},
    title style={font=\fontsize{18.5}{22}\selectfont, anchor=base, at={(0.5,1)}},
  },
  scat/.style={
    common,
    height=309pt,
    xmin=-2.5, xmax=2.5, ymin=-1.968, ymax=1.978,
    axis x line*=bottom, axis y line*=left,
    axis line style={-},
    major tick length=3.5pt,
    xtick={-2,-1.5,-1,-0.5,0,0.5,1,1.5,2},
    xticklabels={-2,-1.5,-1,-0.5,0,0.5,1,1.5,2},
    ytick={-1.5,-1,-0.5,0,0.5,1,1.5},
    yticklabels={-1.5,-1,-0.5,0,0.5,1,1.5},
    clip=false,
    title style={yshift=1.7pt},
  },
  pts/.style={only marks, mark=o, mark size=3pt, mark options={line width=0.55pt, draw=#1}, color=#1},
  heat/.style={
    common,
    height=291.3pt,
    xmin=0.005, xmax=0.105, ymin=0.875, ymax=3.125, y dir=reverse,
    enlargelimits=false, axis on top,
    major tick length=3pt,
    scaled ticks=false,
    xtick={0.01,0.02,0.03,0.04,0.05,0.06,0.07,0.08,0.09,0.1},
    xticklabels={0.01,0.02,0.03,0.04,0.05,0.06,0.07,0.08,0.09,0.1},
    ytick={1,1.25,1.5,1.75,2,2.25,2.5,2.75,3},
    yticklabels={1,1.25,1.5,1.75,2,2.25,2.5,2.75,3},
    colormap name=parula,
    xlabel={$\epsilon$}, ylabel={$p$},
    xlabel style={font=\fontsize{18.5}{22}\selectfont, at={(0.5,0)}, anchor=center, yshift=-25pt},
    ylabel style={font=\fontsize{18.5}{22}\selectfont, at={(0,0.5)}, anchor=center},
    title style={yshift=1.95pt},
    colorbar,
  },
  cells/.style={matrix plot*, mesh/cols=10, point meta=explicit,
    shader=faceted, faceted color=mapped color, line width=0.4pt},
}

\begin{document}
\begin{tikzpicture}
\path[use as bounding box] (0,0) rectangle (842.25pt,-693pt);

% ---------- Density Cut ----------
\begin{axis}[scat, at={(24.75pt,-24.75pt)}, width=391.5pt, title={Density Cut}]
\addplot[pts=pPurple] table[x=x,y=y] {\lowerband};
\addplot[pts=pYellow] table[x=x,y=y] {\upperband};
\end{axis}

% ---------- Geometric Cut ----------
\begin{axis}[scat, at={(447pt,-24.75pt)}, width=390pt, title={Geometric Cut}]
\addplot[pts=pPurple, restrict x to domain=-3:-0.001] table[x=x,y=y] {\upperband};
\addplot[pts=pPurple, restrict x to domain=-3:-0.001] table[x=x,y=y] {\lowerband};
\addplot[pts=pYellow, restrict x to domain=0.001:3] table[x=x,y=y] {\upperband};
\addplot[pts=pYellow, restrict x to domain=0.001:3] table[x=x,y=y] {\lowerband};
\end{axis}

% ---------- Heatmap: density partition ----------
\begin{axis}[heat, at={(41.25pt,-370pt)}, width=340.5pt,
  title={FD SC Accuracy w.r.t. Density Partition},
  ylabel style={yshift=29pt},
  point meta min=0.503, point meta max=1,
  colorbar style={
    at={(parent axis.north east)}, anchor=north west, xshift={6.2pt-0.3cm},
    scale only axis, width=14.4pt, height=291.3pt,
    tick align=inside, major tick length=3pt, ytick pos=right,
    axis line style={draw=axgray, line width=0.6pt},
    tick style={draw=axgray, line width=0.6pt},
    ytick={0.55,0.6,0.65,0.7,0.75,0.8,0.85,0.9,0.95,1},
    yticklabels={0.55,0.6,0.65,0.7,0.75,0.8,0.85,0.9,0.95,1},
    yticklabel style={font=\arial\fontsize{8.5}{10}\selectfont, text=axgray, xshift=-1pt},
  }]
\addplot[cells] table[x=e, y=p, meta=a] {\heatD};
\end{axis}

% ---------- Heatmap: geometric partition ----------
\begin{axis}[heat, at={(463.5pt,-370pt)}, width=339.75pt,
  title={FD SC Accuracy w.r.t. Geometric Partition},
  ylabel style={yshift=28pt},
  point meta min=0.504, point meta max=0.980,
  colorbar style={
    at={(parent axis.north east)}, anchor=north west, xshift={6.75pt-0.3cm},
    scale only axis, width=13.9pt, height=291.3pt,
    tick align=inside, major tick length=3pt, ytick pos=right,
    axis line style={draw=axgray, line width=0.6pt},
    tick style={draw=axgray, line width=0.6pt},
    ytick={0.55,0.6,0.65,0.7,0.75,0.8,0.85,0.9,0.95},
    yticklabels={0.55,0.6,0.65,0.7,0.75,0.8,0.85,0.9,0.95},
    yticklabel style={font=\arial\fontsize{8.5}{10}\selectfont, text=axgray, xshift=-1pt},
  }]
\addplot[cells] table[x=e, y=p, meta=a] {\heatG};
\end{axis}
\end{tikzpicture}
\end{document}
